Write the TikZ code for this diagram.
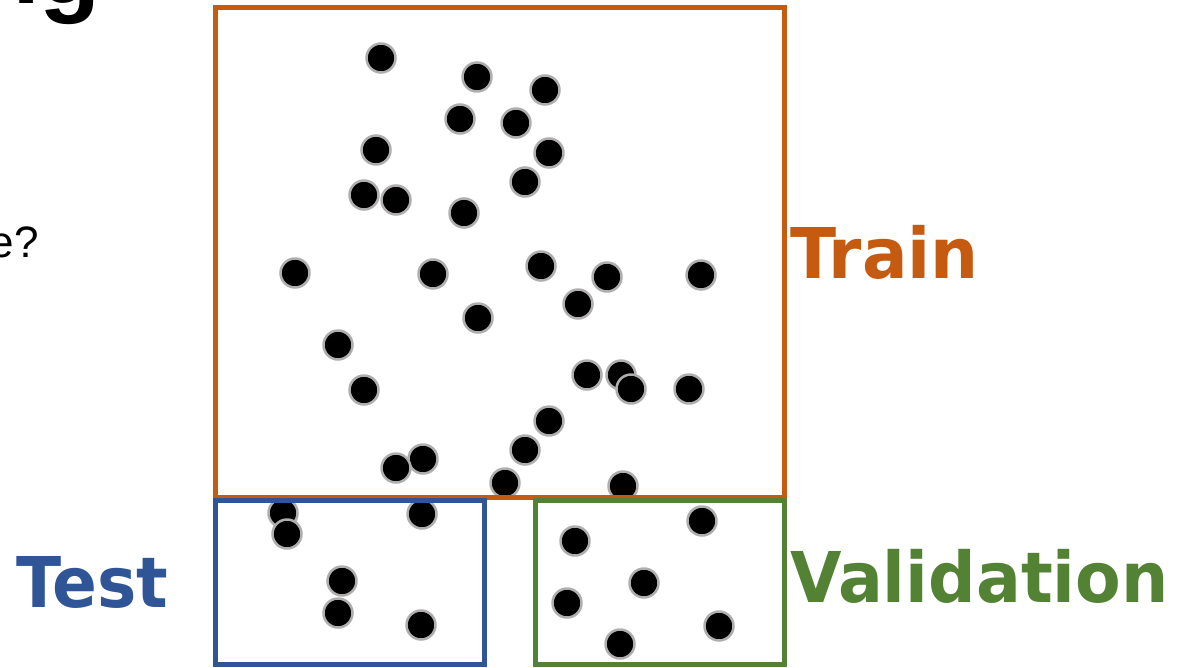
\documentclass[tikz,border=0pt]{standalone}
\usepackage{fontspec}
\setmainfont{DejaVu Sans}
\newfontfamily\arialfont{Liberation Sans}
\definecolor{trainc}{HTML}{C55A11}
\definecolor{testc}{HTML}{2F5597}
\definecolor{valc}{HTML}{548235}
\definecolor{ringc}{HTML}{B0ADAD}
\tikzset{
  dot/.style={circle, fill=black, draw=ringc, line width=2.5pt, minimum size=29pt, inner sep=0pt},
  setbox/.style={line width=5pt},
  lbl/.style={anchor=base west, inner sep=0pt, font=\fontsize{70pt}{80pt}\selectfont\bfseries}
}
\begin{document}
\begin{tikzpicture}[x=1pt,y=-1pt]
\useasboundingbox (0,0) rectangle (1185,667);
% fragments of slide text
\node[anchor=base east, inner sep=0pt, font=\arialfont\fontsize{100pt}{110pt}\selectfont\bfseries] (title) at (101,3) {ng};
\node[anchor=base east, inner sep=0pt, font=\arialfont\fontsize{44pt}{50pt}\selectfont] (question) at (39,257) {e?};
% dots
\foreach \px/\py [count=\i] in {
 381/58, 477/77, 545/90, 460/119, 516/123, 376/150, 549/153, 525/182,
 364/195, 396/200, 464/213, 295/273, 433/274, 541/266, 607/277, 701/275,
 578/304, 478/318, 338/345, 364/390, 587/375, 621/375, 631/389, 689/389,
 549/421, 525/450, 423/459, 396/468, 505/483, 623/486,
 283/513, 287/534, 422/514, 342/581, 338/613, 421/625,
 702/521, 575/541, 644/583, 567/603, 719/626, 620/644}
  \node[dot] (d\i) at (\px,\py) {};
% set boxes
\draw[setbox, draw=trainc] (215.5,7.5) rectangle (784.5,497);
\draw[setbox, draw=testc] (215.5,500.5) rectangle (484.5,664.5);
\draw[setbox, draw=valc] (535,500.5) rectangle (784.5,664.5);
% labels
\node[lbl, text=trainc] (train) at (790,278) {\scalebox{0.965}[1]{Train}};
\node[lbl, text=valc] (val) at (790,602) {\scalebox{0.95}[1]{Validation}};
\node[lbl, text=testc] (test) at (16,607) {\scalebox{0.945}[1]{Test}};
\end{tikzpicture}
\end{document}
